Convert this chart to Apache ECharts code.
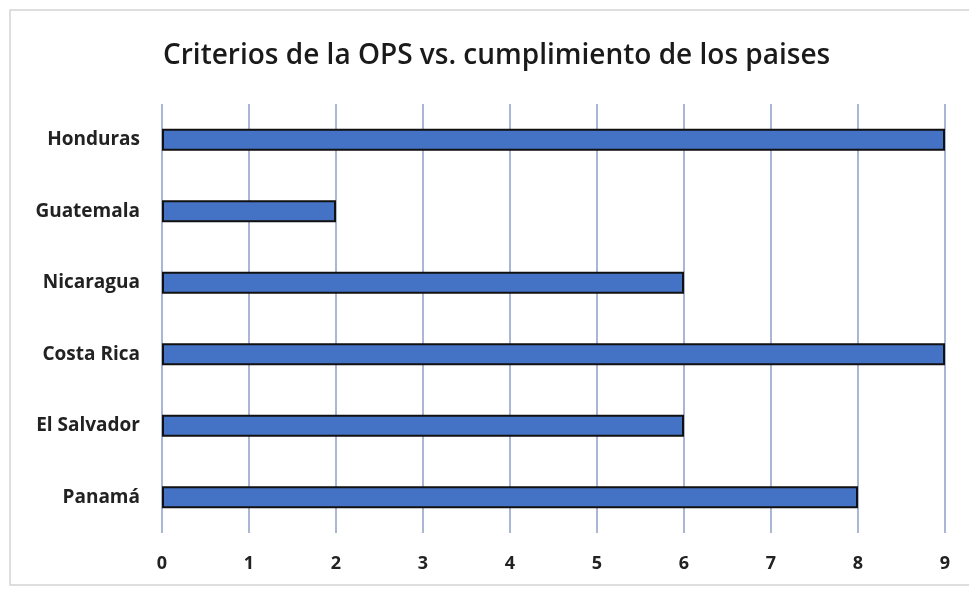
<!DOCTYPE html>
<html>
<head>
<meta charset="utf-8">
<script src="https://cdn.jsdelivr.net/npm/echarts@6/dist/echarts.min.js"></script>
<style>
  html, body { margin: 0; padding: 0; background: #fff; }
  #chart { width: 969px; height: 589px; }
</style>
</head>
<body>
<div id="chart"></div>
<script>
// categories listed bottom to top (ECharts draws the first category at the bottom)
const categories = ['Panamá', 'El Salvador', 'Costa Rica', 'Nicaragua', 'Guatemala', 'Honduras']
const values = [8, 6, 9, 6, 2, 9]
const titleText = 'Criterios de la OPS vs. cumplimiento de los paises'

const chart = echarts.init(document.getElementById('chart'))
chart.setOption({
  backgroundColor: '#fff',
  title: {
    text: titleText,
    left: 158,
    top: 37,
    textStyle: {
      fontFamily: 'Open Sans',
      fontSize: 28,
      fontWeight: 600,
      color: '#1a1a1a'
    }
  },
  graphic: [
    {
      type: 'rect',
      shape: { x: 10, y: 10, width: 980, height: 575 },
      style: { fill: 'none', stroke: '#d4d4d4', lineWidth: 1.5 },
      silent: true
    }
  ],
  grid: {
    left: 162,
    right: 24,
    top: 104,
    bottom: 56
  },
  xAxis: {
    type: 'value',
    min: 0,
    max: 9,
    interval: 1,
    axisLine: { show: false },
    axisTick: { show: false },
    axisLabel: {
      margin: 22,
      fontFamily: 'Open Sans',
      fontWeight: 'bold',
      fontSize: 18,
      color: '#222'
    },
    splitLine: {
      lineStyle: { color: '#8f9cc9', width: 1.5 }
    }
  },
  yAxis: {
    type: 'category',
    data: categories,
    axisLine: { show: false },
    axisTick: { show: false },
    axisLabel: {
      margin: 22,
      fontFamily: 'Open Sans',
      fontWeight: 'bold',
      fontSize: 19,
      color: '#222'
    }
  },
  series: [
    {
      type: 'bar',
      data: values,
      barWidth: 22,
      itemStyle: {
        color: '#4472c4',
        borderColor: '#111',
        borderWidth: 2
      }
    }
  ]
})
</script>
</body>
</html>
